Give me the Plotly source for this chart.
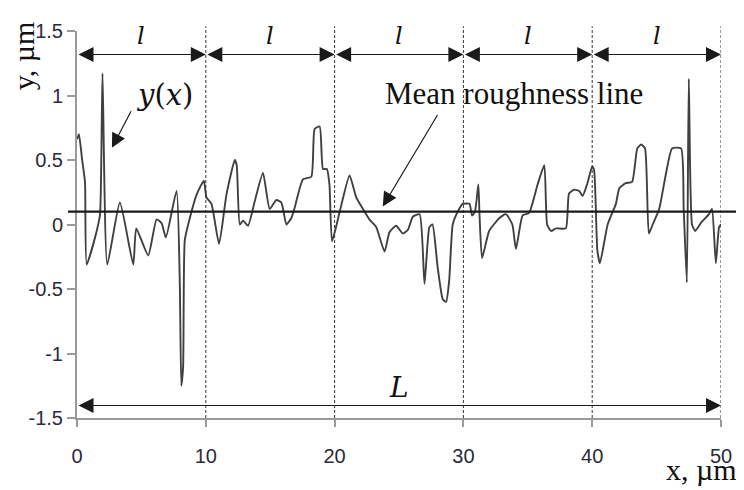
import plotly.graph_objects as go

# ---- data ----
profile_x = [0.0, 0.15, 0.4, 0.62, 0.75, 1.53, 1.79, 1.98, 2.35, 3.33, 4.37, 4.6, 5.53,
             6.18, 6.57, 6.9, 7.73, 7.98, 8.1, 8.24, 8.37, 8.76, 9.28, 9.85, 10.05, 10.44,
             11.03, 11.6, 12.25, 12.4, 12.64, 12.9, 13.28, 13.8, 14.44, 14.96, 15.48, 15.87,
             16.26, 16.64, 16.9, 17.54, 18.19, 18.45, 18.84, 19.1, 19.4, 19.6, 19.8, 20.4,
             21.16, 21.68, 22.2, 22.7, 23.23, 23.88, 24.26, 24.78, 25.3, 25.7, 26.07, 26.6,
             26.98, 27.36, 27.6, 28.0, 28.4, 28.66, 28.9, 29.17, 29.56, 29.95, 30.47, 30.67,
             30.9, 31.16, 31.25, 31.45, 32.0, 32.8, 33.3, 33.8, 34.08, 34.6, 35.1, 35.76,
             36.28, 36.5, 36.8, 37.2, 37.95, 38.2, 38.6, 39.0, 39.25, 39.6, 40.0, 40.15,
             40.4, 40.6, 41.2, 41.84, 42.1, 42.6, 43.1, 43.5, 43.8, 44.1, 44.4, 44.7, 45.2,
             45.7, 46.2, 46.9, 47.1, 47.35, 47.5, 47.75, 48.0, 48.5, 49.07, 49.3, 49.6,
             49.85, 50.0]
profile_y = [0.66, 0.7, 0.5, 0.33, -0.31, -0.05, 0.08, 1.17, -0.31, 0.17, -0.31, -0.03, -0.24,
             0.04, 0.01, -0.1, 0.26, -0.45, -1.25, -1.1, -0.12, 0.05, 0.23, 0.34, 0.21, 0.16,
             -0.15, 0.23, 0.5, 0.46, 0.0, 0.03, -0.01, 0.18, 0.4, 0.12, 0.19, 0.17,
             0.0, 0.05, 0.13, 0.35, 0.37, 0.74, 0.76, 0.43, 0.43, 0.31, -0.13, 0.1,
             0.38, 0.21, 0.12, 0.04, -0.02, -0.21, -0.06, -0.01, -0.07, -0.04, 0.06, 0.08,
             -0.46, -0.02, 0.0, -0.33, -0.58, -0.6, -0.43, 0.0, 0.1, 0.16, 0.16, 0.07,
             0.1, 0.31, 0.08, -0.26, -0.05, 0.05, 0.08, 0.0, -0.19, 0.07, 0.09, 0.31,
             0.46, 0.0, -0.05, -0.03, -0.03, 0.24, 0.27, 0.26, 0.22, 0.31, 0.45, 0.42,
             -0.2, -0.3, 0.0, 0.16, 0.28, 0.32, 0.33, 0.59, 0.62, 0.59, -0.07, 0.0, 0.12,
             0.38, 0.59, 0.59, 0.13, -0.45, 1.13, 0.0, -0.05, 0.02, 0.08, 0.12, -0.3,
             -0.02, 0.0]

segment_edges = [0, 10, 20, 30, 40, 50]
mean_line_y = 0.1

x_tick_vals = [0, 10, 20, 30, 40, 50]
x_tick_text = ["0", "10", "20", "30", "40", "50"]
y_tick_vals = [-1.5, -1, -0.5, 0, 0.5, 1, 1.5]
y_tick_text = ["-1.5", "-1", "-0.5", "0", "0.5", "1", "1.5"]

fig = go.Figure()

fig.add_trace(go.Scatter(
    x=profile_x, y=profile_y, mode="lines",
    line=dict(color="#404040", width=1.9, shape="spline", smoothing=0.5),
    showlegend=False, hoverinfo="skip"))

shapes = []
# dashed segment boundaries
for xe in segment_edges[1:]:
    shapes.append(dict(type="line", xref="x", yref="paper", x0=xe, x1=xe, y0=0, y1=1.012,
                       line=dict(color="#333", width=1, dash="3px,2px")))
# mean roughness line (extends slightly outside the axes)
shapes.append(dict(type="line", xref="paper", yref="y", x0=-0.014, x1=1.04,
                   y0=mean_line_y, y1=mean_line_y,
                   line=dict(color="#1a1a1a", width=2.2)))

annotations = []
serif = "Liberation Serif"
math = "DejaVu Serif"
arrow_y_l = 1.318
for i in range(len(segment_edges) - 1):
    a, b = segment_edges[i], segment_edges[i + 1]
    annotations.append(dict(x=b, y=arrow_y_l, ax=a, ay=arrow_y_l, xref="x", yref="y",
                            axref="x", ayref="y", text="", showarrow=True,
                            arrowhead=2, startarrowhead=2, arrowside="end+start",
                            arrowsize=2.5, startarrowsize=2.5, arrowwidth=1.2,
                            arrowcolor="#1a1a1a", standoff=0, startstandoff=0))
    annotations.append(dict(x=(a + b) / 2, y=1.46, xref="x", yref="y", text="<i>l</i>",
                            showarrow=False, font=dict(family=math, size=24, color="#111"),
                            xanchor="center", yanchor="middle"))
# total length L
annotations.append(dict(x=segment_edges[-1], y=-1.403, ax=segment_edges[0], ay=-1.403,
                        xref="x", yref="y", axref="x", ayref="y", text="", showarrow=True,
                        arrowhead=2, startarrowhead=2, arrowside="end+start",
                        arrowsize=2.5, startarrowsize=2.5, arrowwidth=1.2,
                        arrowcolor="#1a1a1a", standoff=0, startstandoff=0))
annotations.append(dict(x=25, y=-1.267, xref="x", yref="y", text="<i>L</i>", showarrow=False,
                        font=dict(family=math, size=28, color="#111"),
                        xanchor="center", yanchor="middle"))
# y(x) label + arrow
annotations.append(dict(x=6.82, y=1.004, xref="x", yref="y", text="<i>y</i>(<i>x</i>)",
                        showarrow=False, font=dict(family=math, size=29, color="#111"),
                        xanchor="center", yanchor="middle"))
annotations.append(dict(x=2.71, y=0.594, ax=4.26, ay=0.89, xref="x", yref="y",
                        axref="x", ayref="y", text="", showarrow=True, arrowhead=2,
                        arrowsize=2.4, arrowwidth=1.2, arrowcolor="#1a1a1a", standoff=0))
# Mean roughness line label + arrow
annotations.append(dict(x=33.95, y=1.012, xref="x", yref="y", text="Mean roughness line",
                        showarrow=False, font=dict(family=serif, size=31, color="#111"),
                        xanchor="center", yanchor="middle"))
annotations.append(dict(x=23.74, y=0.14, ax=28.06, ay=0.86, xref="x", yref="y",
                        axref="x", ayref="y", text="", showarrow=True, arrowhead=2,
                        arrowsize=2.4, arrowwidth=1.2, arrowcolor="#1a1a1a", standoff=0))
# axis titles
annotations.append(dict(x=0.97, y=-0.132, xref="paper", yref="paper", text="x, µm",
                        showarrow=False, font=dict(family=serif, size=30, color="#111"),
                        xanchor="center", yanchor="middle"))
annotations.append(dict(x=-0.084, y=0.937, xref="paper", yref="paper", text="y, µm",
                        textangle=-90, showarrow=False,
                        font=dict(family=serif, size=30, color="#111"),
                        xanchor="center", yanchor="middle"))

# the page adds an 8px body margin, so the figure is made 8px smaller and shifted
fig.update_layout(
    width=736, height=482,
    margin=dict(l=69, r=22, t=15, b=72, pad=0),
    paper_bgcolor="white", plot_bgcolor="white",
    shapes=shapes, annotations=annotations,
    xaxis=dict(range=[0, 50], tickvals=x_tick_vals, ticktext=x_tick_text,
               showgrid=False, zeroline=False, showline=True, linecolor="#9a9a9a",
               linewidth=2, ticks="outside", ticklen=7, tickwidth=2, tickcolor="#9a9a9a",
               ticklabelstandoff=12,
               tickfont=dict(family="Liberation Sans", size=20, color="#2a2a3a")),
    yaxis=dict(range=[-1.5, 1.5], tickvals=y_tick_vals, ticktext=y_tick_text,
               showgrid=False, zeroline=False, showline=True, linecolor="#9a9a9a",
               linewidth=2, ticks="outside", ticklen=8, tickwidth=2, tickcolor="#9a9a9a",
               tickfont=dict(family="Liberation Sans", size=20, color="#2a2a3a")),
)

fig.write_html("out.html")
